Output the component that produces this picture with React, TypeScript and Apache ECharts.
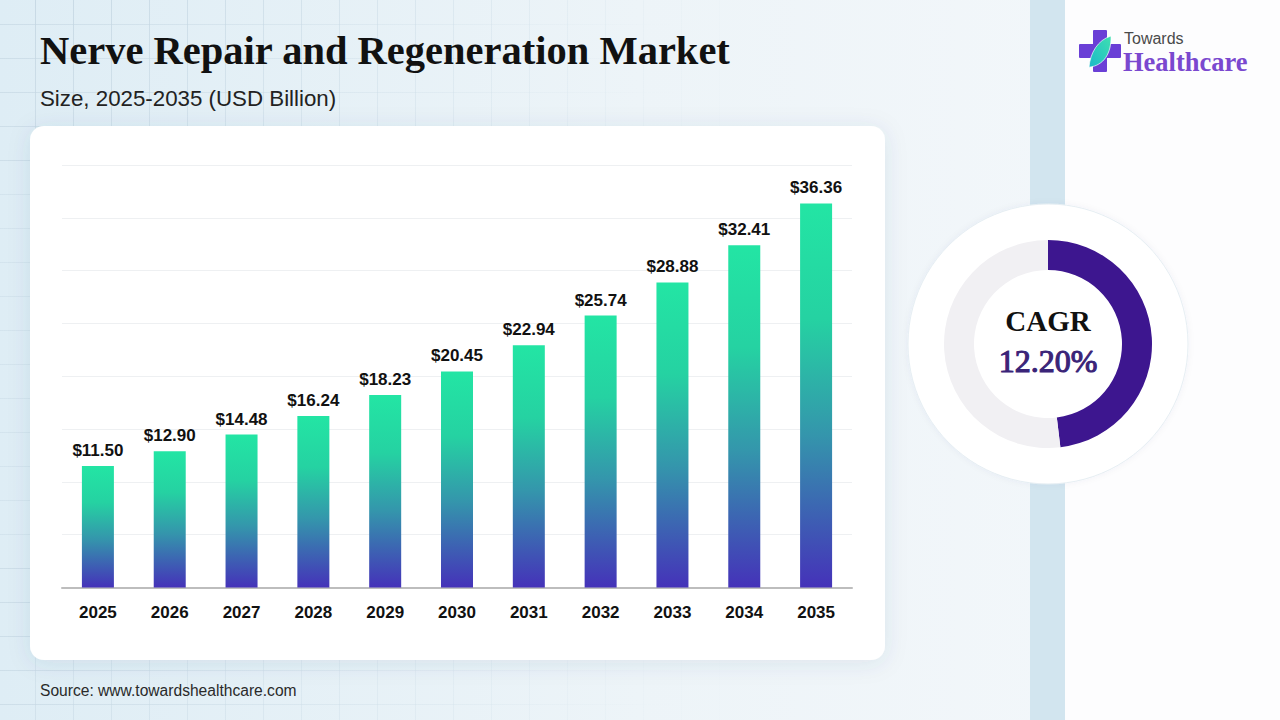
import React, { useEffect, useRef } from "react";
import * as echarts from "echarts";

const YEARS = ["2025", "2026", "2027", "2028", "2029", "2030", "2031", "2032", "2033", "2034", "2035"];
const MARKET_SIZE = [11.5, 12.9, 14.48, 16.24, 18.23, 20.45, 22.94, 25.74, 28.88, 32.41, 36.36];
const Y_MAX = 40;
const Y_INTERVAL = 5;
const CAGR_ARC = [48.1, 51.9];
const CAGR_TEXT = "12.20%";
const TITLE = "Nerve Repair and Regeneration Market";
const SUBTITLE = "Size, 2025-2035 (USD Billion)";
const SOURCE = "Source: www.towardshealthcare.com";

const SERIF = "'Liberation Serif', 'DejaVu Serif', serif";
const SANS = "'Liberation Sans', Arial, sans-serif";

function buildBackground(): any[] {
  const els: any[] = [];
  els.push({
    type: "rect",
    shape: { x: 0, y: 0, width: 1280, height: 720 },
    style: {
      fill: new echarts.graphic.LinearGradient(0, 0, 1, 0, [
        { offset: 0, color: "#deedf5" },
        { offset: 0.5, color: "#edf4f8" },
        { offset: 1, color: "#f5f8fb" },
      ]),
    },
    silent: true,
  });
  for (let x = 35; x < 1000; x += 38) {
    const a = Math.max(0, 1 - x / 760) * 0.9;
    if (a <= 0) break;
    els.push({
      type: "rect",
      shape: { x: x, y: 0, width: 1, height: 720 },
      style: {
        fill: new echarts.graphic.LinearGradient(0, 0, 0, 1, [
          { offset: 0, color: `rgba(196,214,226,${a})` },
          { offset: 0.5, color: `rgba(196,214,226,${a * 0.35})` },
          { offset: 1, color: `rgba(196,214,226,${a * 0.6})` },
        ]),
      },
      silent: true,
    });
  }
  for (let y = 24; y < 720; y += 34) {
    const a = 0.85 - (Math.abs(y - 360) < 200 ? 0.45 : 0.2);
    els.push({
      type: "rect",
      shape: { x: 0, y: y, width: 900, height: 1 },
      style: {
        fill: new echarts.graphic.LinearGradient(0, 0, 1, 0, [
          { offset: 0, color: `rgba(196,214,226,${a})` },
          { offset: 0.75, color: "rgba(196,214,226,0)" },
          { offset: 1, color: "rgba(196,214,226,0)" },
        ]),
      },
      silent: true,
    });
  }
  els.push({
    type: "rect",
    shape: { x: 1065, y: 0, width: 215, height: 720 },
    style: { fill: "#fdfdfe" },
    silent: true,
  });
  els.push({
    type: "rect",
    shape: { x: 1030, y: 0, width: 35, height: 720 },
    style: { fill: "#d2e5ef" },
    silent: true,
  });
  return els;
}

export default function App() {
  const ref = useRef<HTMLDivElement>(null);

  useEffect(() => {
    if (!ref.current) return;
    echarts.graphic.registerShape(
      "leaf",
      echarts.graphic.extendPath("M0 40 C 2 22 16 5 40 0 C 41 22 27 38 0 40 Z", {})
    );
    const chart = echarts.init(ref.current, null, { renderer: "svg" });

    const graphics: any[] = [
      ...buildBackground(),
      {
        type: "rect",
        shape: { x: 30, y: 126, width: 855, height: 534, r: 14 },
        style: {
          fill: "#ffffff",
          shadowBlur: 22,
          shadowColor: "rgba(40,80,120,0.10)",
          shadowOffsetY: 3,
        },
        silent: true,
      },
      {
        type: "circle",
        shape: { cx: 1048, cy: 344, r: 140 },
        style: {
          fill: "#ffffff",
          stroke: "#e6eef3",
          lineWidth: 1,
          shadowBlur: 6,
          shadowColor: "rgba(40,80,120,0.05)",
        },
        silent: true,
      },
      {
        type: "text",
        x: 40,
        y: 50,
        style: {
          text: TITLE,
          font: `bold 40.5px ${SERIF}`,
          fill: "#111111",
          textVerticalAlign: "middle",
        },
      },
      {
        type: "text",
        x: 40,
        y: 98,
        style: {
          text: SUBTITLE,
          font: `22.3px ${SANS}`,
          fill: "#222222",
          textVerticalAlign: "middle",
        },
      },
      {
        type: "text",
        x: 40,
        y: 690,
        style: {
          text: SOURCE,
          font: `15.6px ${SANS}`,
          fill: "#2a2a2a",
          textVerticalAlign: "middle",
        },
      },
      {
        type: "text",
        x: 1048,
        y: 321,
        style: {
          text: "CAGR",
          font: `bold 29px ${SERIF}`,
          fill: "#111111",
          textAlign: "center",
          textVerticalAlign: "middle",
        },
      },
      {
        type: "text",
        x: 1048,
        y: 361,
        style: {
          text: CAGR_TEXT,
          font: `32px ${SERIF}`,
          fill: "#3a2478",
          textAlign: "center",
          textVerticalAlign: "middle",
          stroke: "#3a2478",
          lineWidth: 1.1,
        },
      },
      // logo
      {
        type: "rect",
        shape: { x: 1093, y: 30, width: 14, height: 42, r: 1 },
        style: { fill: "#6a3fd6" },
      },
      {
        type: "rect",
        shape: { x: 1079, y: 44, width: 42, height: 14, r: 1 },
        style: { fill: "#6a3fd6" },
      },
      {
        type: "leaf",
        x: 1089,
        y: 36,
        scaleX: 0.55,
        scaleY: 0.78,
        style: {
          fill: new echarts.graphic.LinearGradient(0, 1, 1, 0, [
            { offset: 0, color: "#1bb9c9" },
            { offset: 1, color: "#3fe0b0" },
          ]),
          stroke: "#ffffff",
          lineWidth: 1,
        },
      },
      {
        type: "text",
        x: 1124,
        y: 38,
        style: {
          text: "Towards",
          font: `16px ${SANS}`,
          fill: "#4a4a4a",
          textVerticalAlign: "middle",
        },
      },
      {
        type: "text",
        x: 1123,
        y: 62,
        style: {
          text: "Healthcare",
          font: `bold 26.5px ${SERIF}`,
          fill: "#7a48cf",
          textVerticalAlign: "middle",
        },
      },
    ];

    chart.setOption({
      animation: false,
      backgroundColor: "transparent",
      graphic: { elements: graphics },
      grid: { left: 62, width: 790, top: 165, bottom: 132.5, containLabel: false },
      xAxis: {
        type: "category",
        data: YEARS,
        axisLine: { lineStyle: { color: "#bdbdbd", width: 2 } },
        axisTick: { show: false },
        axisLabel: {
          margin: 16,
          fontFamily: SANS,
          fontWeight: "bold",
          fontSize: 17,
          color: "#111111",
        },
      },
      yAxis: {
        type: "value",
        min: 0,
        max: Y_MAX,
        interval: Y_INTERVAL,
        axisLine: { show: false },
        axisTick: { show: false },
        axisLabel: { show: false },
        splitLine: { lineStyle: { color: "#eef0f2", width: 1 } },
      },
      series: [
        {
          type: "bar",
          data: MARKET_SIZE,
          barWidth: 32,
          itemStyle: {
            color: new echarts.graphic.LinearGradient(0, 0, 0, 1, [
              { offset: 0, color: "#23e5a4" },
              { offset: 0.3, color: "#25d2a2" },
              { offset: 0.6, color: "#3496ac" },
              { offset: 1, color: "#4532b9" },
            ]),
          },
          label: {
            show: true,
            position: "top",
            distance: 7,
            fontFamily: SANS,
            fontWeight: "bold",
            fontSize: 17,
            color: "#111111",
            formatter: (p: any) => "$" + Number(p.value).toFixed(2),
          },
        },
        {
          type: "pie",
          center: [1048, 344],
          radius: [74, 104],
          startAngle: 90,
          clockwise: true,
          silent: true,
          label: { show: false },
          labelLine: { show: false },
          data: [
            { value: CAGR_ARC[0], itemStyle: { color: "#3d168f" } },
            { value: CAGR_ARC[1], itemStyle: { color: "#f1f0f3" } },
          ],
        },
      ],
    });

    return () => chart.dispose();
  }, []);

  return (
    <div
      ref={ref}
      style={{ position: "absolute", left: 0, top: 0, width: 1280, height: 720 }}
    />
  );
}
